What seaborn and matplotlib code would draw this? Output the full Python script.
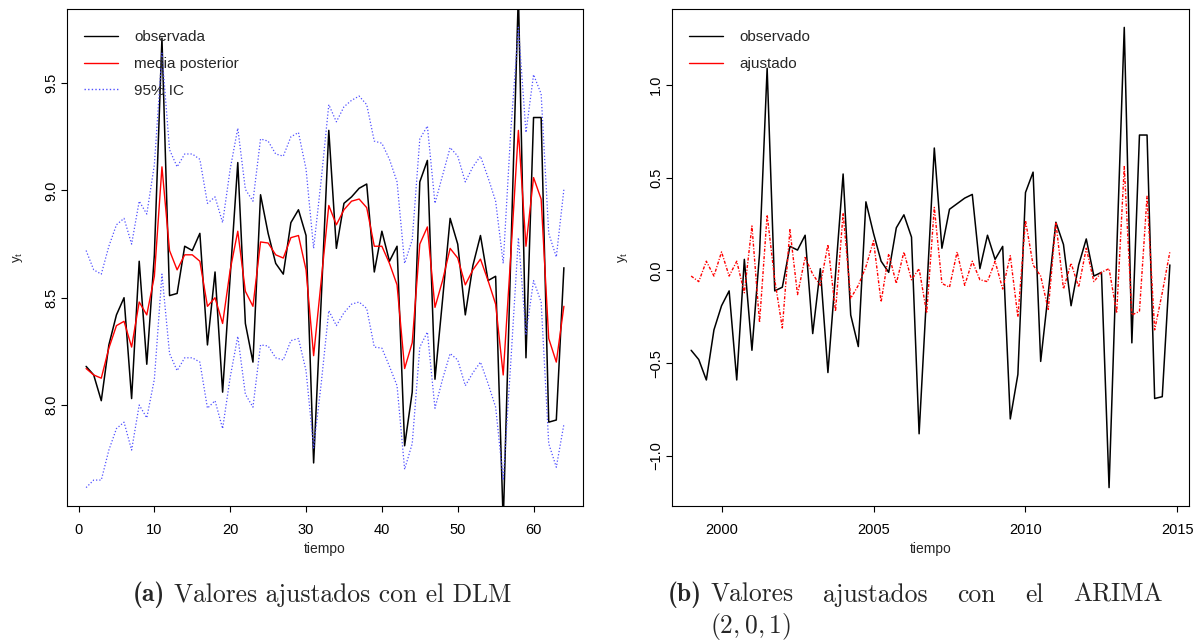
import numpy as np
import pandas as pd
import matplotlib
matplotlib.use("Agg")
import matplotlib.pyplot as plt
import seaborn as sns
from matplotlib.lines import Line2D

# ---------------- data ----------------
tiempo = list(range(1, 65))
anios = [1999 + i / 4 for i in range(64)]

obs_dlm = [8.18, 8.14, 8.02, 8.28, 8.42, 8.50, 8.03, 8.67, 8.19, 8.70,
           9.71, 8.51, 8.52, 8.74, 8.72, 8.80, 8.28, 8.62, 8.06, 8.60,
           9.13, 8.38, 8.20, 8.98, 8.80, 8.66, 8.61, 8.85, 8.91, 8.79,
           7.73, 8.49, 9.28, 8.73, 8.94, 8.97, 9.01, 9.03, 8.62, 8.81,
           8.67, 8.74, 7.81, 8.06, 9.04, 9.14, 8.12, 8.49, 8.87, 8.75,
           8.42, 8.65, 8.79, 8.58, 8.60, 7.45, 8.70, 9.92, 8.22, 9.34,
           9.34, 7.92, 7.93, 8.64]
media_dlm = [8.17, 8.14, 8.125, 8.265, 8.37, 8.39, 8.27, 8.48, 8.42, 8.60,
             9.11, 8.72, 8.63, 8.70, 8.70, 8.67, 8.46, 8.50, 8.38, 8.63,
             8.81, 8.53, 8.46, 8.76, 8.755, 8.70, 8.685, 8.78, 8.79, 8.63,
             8.23, 8.58, 8.93, 8.84, 8.91, 8.95, 8.96, 8.92, 8.74, 8.74,
             8.66, 8.56, 8.17, 8.29, 8.75, 8.83, 8.455, 8.58, 8.73, 8.685,
             8.56, 8.63, 8.68, 8.58, 8.47, 8.14, 8.70, 9.28, 8.74, 9.06,
             8.96, 8.31, 8.20, 8.46]
sup_dlm = [8.72, 8.63, 8.61, 8.74, 8.84, 8.87, 8.75, 8.95, 8.89, 9.12,
           9.64, 9.19, 9.11, 9.17, 9.17, 9.145, 8.94, 8.97, 8.85, 9.10,
           9.29, 9.005, 8.95, 9.24, 9.23, 9.17, 9.16, 9.25, 9.27, 9.10,
           8.73, 9.05, 9.40, 9.32, 9.39, 9.42, 9.44, 9.40, 9.23, 9.22,
           9.145, 9.04, 8.66, 8.77, 9.24, 9.30, 8.94, 9.07, 9.20, 9.16,
           9.04, 9.11, 9.16, 9.06, 8.95, 8.66, 9.28, 9.76, 9.27, 9.54,
           9.45, 8.80, 8.69, 9.005]
inf_dlm = [7.615, 7.65, 7.65, 7.79, 7.89, 7.92, 7.79, 8.00, 7.94, 8.12,
           8.61, 8.24, 8.16, 8.22, 8.22, 8.20, 7.985, 8.02, 7.89, 8.13,
           8.32, 8.05, 7.99, 8.28, 8.275, 8.22, 8.21, 8.30, 8.31, 8.16,
           7.80, 8.10, 8.44, 8.37, 8.43, 8.47, 8.48, 8.45, 8.27, 8.265,
           8.18, 8.09, 7.70, 7.82, 8.27, 8.34, 7.985, 8.12, 8.24, 8.21,
           8.09, 8.15, 8.20, 8.10, 7.99, 7.65, 8.20, 8.78, 8.33, 8.58,
           8.48, 7.82, 7.71, 7.91]

obs_arima = [-0.43, -0.48, -0.59, -0.32, -0.19, -0.11, -0.59, 0.06, -0.43, 0.09,
             1.09, -0.11, -0.09, 0.13, 0.11, 0.19, -0.34, 0.01, -0.55, -0.02,
             0.52, -0.24, -0.41, 0.37, 0.20, 0.05, -0.01, 0.23, 0.30, 0.18,
             -0.88, -0.12, 0.66, 0.12, 0.33, 0.36, 0.39, 0.41, 0.01, 0.19,
             0.06, 0.13, -0.80, -0.56, 0.42, 0.53, -0.49, -0.12, 0.26, 0.14,
             -0.19, 0.03, 0.17, -0.03, -0.01, -1.17, 0.09, 1.31, -0.39, 0.73,
             0.73, -0.69, -0.68, 0.03]
ajus_arima = [-0.03, -0.06, 0.05, -0.03, 0.10, -0.03, 0.05, -0.12, 0.24, -0.28,
              0.30, -0.05, -0.31, 0.22, -0.13, 0.07, -0.02, -0.08, 0.14, -0.22,
              0.31, -0.15, -0.08, 0.02, 0.16, -0.17, 0.09, -0.07, 0.10, -0.05,
              0.01, -0.23, 0.34, -0.07, -0.09, 0.10, -0.08, 0.05, -0.05, -0.06,
              0.05, -0.10, 0.08, -0.25, 0.27, 0.03, -0.03, -0.21, 0.26, -0.10,
              0.04, -0.09, 0.12, -0.06, -0.01, 0.01, -0.23, 0.56, -0.24, -0.22,
              0.40, -0.32, -0.12, 0.10]

xticks_a = [0, 10, 20, 30, 40, 50, 60]
yticks_a = [8.0, 8.5, 9.0, 9.5]
xticks_b = [2000, 2005, 2010, 2015]
yticks_b = [-1.0, -0.5, 0.0, 0.5, 1.0]

leg_a = ["observada", "media posterior", "95% IC"]
leg_b = ["observado", "ajustado"]
cap_a = ("(a)", "Valores ajustados con el DLM")
cap_b = ("(b)", ["Valores", "ajustados", "con", "el", "ARIMA"], r"$(2,0,1)$")

df_a = pd.DataFrame({"tiempo": tiempo, "obs": obs_dlm, "media": media_dlm,
                     "sup": sup_dlm, "inf": inf_dlm})
df_b = pd.DataFrame({"tiempo": anios, "obs": obs_arima, "ajus": ajus_arima})

# ---------------- style ----------------
sns.set_style("ticks")
plt.rcParams["font.family"] = ["Liberation Sans", "DejaVu Sans"]
plt.rcParams["axes.edgecolor"] = "black"
plt.rcParams["axes.linewidth"] = 0.8

W, H = 1199, 641
fig = plt.figure(figsize=(W / 100, H / 100), dpi=100)
axA = fig.add_axes([67 / W, 1 - 506 / H, (583 - 67) / W, (506 - 9) / H])
axB = fig.add_axes([672 / W, 1 - 506 / H, (1189 - 672) / W, (506 - 9) / H])

BLUE = "#5050ff"
dot_blue = (0, (1, 1.6))
dotdash = (0, (2.2, 1.2, 0.8, 1.2))

# Panel (a)
sns.lineplot(data=df_a, x="tiempo", y="obs", ax=axA, color="black", lw=1.1)
sns.lineplot(data=df_a, x="tiempo", y="media", ax=axA, color="red", lw=1.0)
sns.lineplot(data=df_a, x="tiempo", y="sup", ax=axA, color=BLUE, lw=0.9, linestyle=dot_blue)
sns.lineplot(data=df_a, x="tiempo", y="inf", ax=axA, color=BLUE, lw=0.9, linestyle=dot_blue)

def r_lim(lo, hi):
    pad = 0.04 * (hi - lo)
    return lo - pad, hi + pad

axA.set_xlim(*r_lim(min(tiempo), max(tiempo)))
axA.set_ylim(*r_lim(min(inf_dlm), max(sup_dlm)))
axA.set_xticks(xticks_a)
axA.set_yticks(yticks_a)
axA.set_yticklabels([f"{v:.1f}" for v in yticks_a])

# Panel (b)
sns.lineplot(data=df_b, x="tiempo", y="obs", ax=axB, color="black", lw=1.1)
sns.lineplot(data=df_b, x="tiempo", y="ajus", ax=axB, color="red", lw=1.0, linestyle=dotdash)
axB.set_xlim(*r_lim(min(anios), max(anios)))
axB.set_ylim(*r_lim(min(min(obs_arima), min(ajus_arima)), max(max(obs_arima), max(ajus_arima))))
axB.set_xticks(xticks_b)
axB.set_yticks(yticks_b)
axB.set_yticklabels([f"{v:.1f}".replace("-", "\u2212") for v in yticks_b])

for ax in (axA, axB):
    for s in ax.spines.values():
        s.set_visible(True)
        s.set_color("black")
        s.set_linewidth(0.8)
    ax.tick_params(axis="both", direction="out", length=4.5, width=0.8,
                   labelsize=10.5, colors="black")
    ax.tick_params(axis="x", pad=8)
    ax.tick_params(axis="y", pad=2, labelrotation=90)
    for lab in ax.get_yticklabels():
        lab.set_va("center")
    ax.set_xlabel("tiempo", fontsize=10, labelpad=3)
    ax.set_ylabel(r"$\mathregular{y_t}$", fontsize=9.5, labelpad=14)
    ax.grid(False)

leg_kw = dict(loc="upper left", bbox_to_anchor=(0.033, 0.958), frameon=False,
              fontsize=11, handlelength=2.2, handletextpad=1.1,
              labelspacing=0.85, borderpad=0, borderaxespad=0)
handles_a = [Line2D([], [], color="black", lw=1.0),
             Line2D([], [], color="red", lw=1.0),
             Line2D([], [], color=BLUE, lw=1.0, linestyle=dot_blue)]
axA.legend(handles_a, leg_a, **leg_kw)
handles_b = [Line2D([], [], color="black", lw=1.0),
             Line2D([], [], color="red", lw=1.0)]
axB.legend(handles_b, leg_b, **leg_kw)

# ---------------- captions ----------------
CAP = 18.4
ycap1 = 1 - 595 / H
ycap2 = 1 - 626 / H
fig.canvas.draw()
rend = fig.canvas.get_renderer()

def width_px(t):
    return t.get_window_extent(renderer=rend).width

probe1 = fig.text(0, 0, "x x", family="cmr10", size=CAP)
probe2 = fig.text(0, 0, "xx", family="cmr10", size=CAP)
sp = width_px(probe1) - width_px(probe2)
probe1.remove()
probe2.remove()

ta = fig.text(133 / W, ycap1, cap_a[0], family="cmb10", size=CAP, ha="left", va="center")
wa = width_px(ta)
fig.text((133 + wa + sp) / W, ycap1, cap_a[1], family="cmr10", size=CAP, ha="left", va="center")

tb = fig.text(668 / W, ycap1, cap_b[0], family="cmb10", size=CAP, ha="left", va="center")
wb = width_px(tb)
x0 = 668 + wb + sp
x_end = 1163
words = [fig.text(0, ycap1, w, family="cmr10", size=CAP, ha="left", va="center") for w in cap_b[1]]
ws = [width_px(t) for t in words]
gap = (x_end - x0 - sum(ws)) / (len(ws) - 1)
x = x0
for t, w in zip(words, ws):
    t.set_x(x / W)
    x += w + gap
fig.text(x0 / W, ycap2, cap_b[2], size=CAP, math_fontfamily="cm", ha="left", va="center")

fig.savefig("out.png", dpi=100)
